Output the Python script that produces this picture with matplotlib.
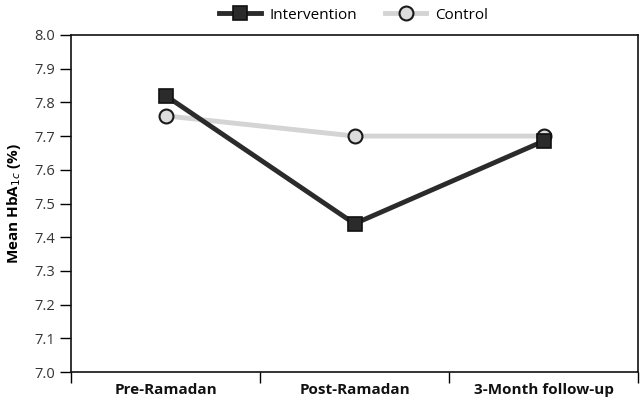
import matplotlib.pyplot as plt
import numpy as np

plt.rcParams['font.family'] = ['Open Sans', 'DejaVu Sans']

# Données
categories = ["Pre-Ramadan", "Post-Ramadan", "3-Month follow-up"]
intervention = [7.82, 7.44, 7.685]
control = [7.76, 7.70, 7.70]
yticks = [7.0, 7.1, 7.2, 7.3, 7.4, 7.5, 7.6, 7.7, 7.8, 7.9, 8.0]

fig = plt.figure(figsize=(6.4, 4.01), dpi=100)
ax = fig.add_axes([0.111, 0.072, 0.886, 0.841])

x = np.arange(len(categories)) + 0.5

ax.plot(x, control, color='#d4d4d4', lw=3.5, marker='o', markersize=10,
        markerfacecolor='#dcdcdc', markeredgecolor='#1a1a1a', markeredgewidth=1.5,
        label='Control', zorder=2)
ax.plot(x, intervention, color='#2b2b2b', lw=3.5, marker='s', markersize=10,
        markerfacecolor='#2b2b2b', markeredgecolor='#111111', markeredgewidth=1.2,
        label='Intervention', zorder=3)

ax.set_xlim(0, 3)
ax.set_ylim(7.0, 8.0)
ax.set_yticks(yticks)
ax.set_yticklabels([f"{v:.1f}" for v in yticks], fontsize=10.5, color='#333333')
ax.set_xticks([0, 1, 2, 3])
ax.set_xticklabels([])
ax.set_xticks(x, minor=True)
ax.set_xticklabels(categories, minor=True, fontsize=11, fontweight='bold', color='#111111')
ax.tick_params(axis='x', which='minor', length=0, pad=8)
ax.tick_params(axis='x', which='major', length=8, width=1, direction='out')
ax.tick_params(axis='y', length=8, width=1, direction='out')

for s in ax.spines.values():
    s.set_linewidth(1.2)
    s.set_color('#111111')

ax.set_ylabel("Mean HbA$_{1c}$ (%)", fontsize=11, fontweight='bold', labelpad=8)

handles, labels = ax.get_legend_handles_labels()
fig.legend(handles[::-1], labels[::-1], loc='upper center', bbox_to_anchor=(0.553, 1.015),
           ncol=2, frameon=False, fontsize=11, handlelength=2.7, handletextpad=0.6,
           columnspacing=1.8)

fig.savefig("out.png", dpi=100)
